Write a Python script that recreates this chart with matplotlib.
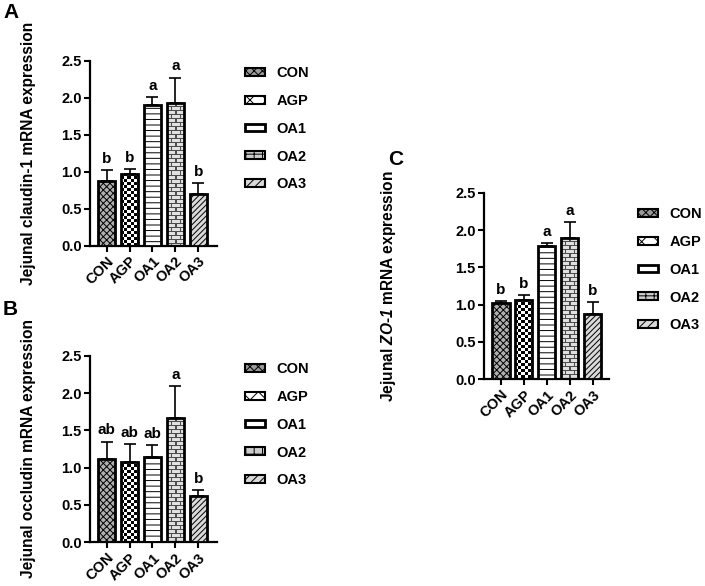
import numpy as np
import matplotlib
matplotlib.use("Agg")
import matplotlib.pyplot as plt
from matplotlib.patches import Patch

plt.rcParams['font.family'] = ['Liberation Sans', 'DejaVu Sans']
plt.rcParams['font.weight'] = 'bold'
plt.rcParams['hatch.linewidth'] = 0.7
plt.rcParams['mathtext.fontset'] = 'custom'
plt.rcParams['mathtext.bfit'] = 'Liberation Sans:bold:italic'
plt.rcParams['mathtext.it'] = 'Liberation Sans:bold:italic'

groups = ["CON", "AGP", "OA1", "OA2", "OA3"]

claudin_mean = [0.87, 0.96, 1.90, 1.92, 0.70]
claudin_err = [0.15, 0.07, 0.11, 0.35, 0.14]
claudin_sig = ["b", "b", "a", "a", "b"]

occludin_mean = [1.11, 1.08, 1.14, 1.67, 0.62]
occludin_err = [0.24, 0.24, 0.16, 0.42, 0.08]
occludin_sig = ["ab", "ab", "ab", "a", "b"]

zo1_mean = [1.02, 1.06, 1.78, 1.89, 0.88]
zo1_err = [0.03, 0.07, 0.04, 0.22, 0.15]
zo1_sig = ["b", "b", "a", "a", "b"]

W, H = 705, 586
fig = plt.figure(figsize=(W / 100, H / 100), dpi=100)


def checker(nx, ny, cell):
    yy, xx = np.mgrid[0:ny, 0:nx]
    m = ((xx // cell + yy // cell) % 2).astype(float)
    img = np.ones((ny, nx, 3))
    img[m == 1] = 0.0
    return img


def brick(nx, ny):
    yy, xx = np.mgrid[0:ny, 0:nx]
    img = np.ones((ny, nx, 3)) * 0.88
    row = yy // 4
    img[yy % 4 == 0] = 0.3
    vert = ((xx + (row % 2) * 4) % 8 == 0)
    img[vert] = 0.3
    return img


styles = {
    "CON": dict(kind="hatch", hatch="xxxxx", fc="#b0b0b0"),
    "AGP": dict(kind="checker"),
    "OA1": dict(kind="hatch", hatch="---", fc="white"),
    "OA2": dict(kind="brick"),
    "OA3": dict(kind="hatch", hatch="//////", fc="#d9d9d9"),
}

legend_handles = [
    Patch(facecolor="#9a9a9a", edgecolor="black", hatch="xxxx", linewidth=1.5, label="CON"),
    Patch(facecolor="white", edgecolor="black", hatch="xx", linewidth=1.5, label="AGP"),
    Patch(facecolor="white", edgecolor="black", linewidth=2, label="OA1"),
    Patch(facecolor="#cccccc", edgecolor="black", hatch="++", linewidth=1.5, label="OA2"),
    Patch(facecolor="#d9d9d9", edgecolor="black", hatch="////", linewidth=1.5, label="OA3"),
]


def panel(rect, means, errs, sigs, ylabel, letter, letter_xy, xlim, leg_xy, ylab_x):
    ax = fig.add_axes(rect)
    x = np.arange(len(groups))
    bw = 0.75
    ax.set_xlim(*xlim)
    ax.set_ylim(0, 2.5)
    bars = ax.bar(x, means, width=bw, facecolor="none", edgecolor="black",
                  linewidth=2, zorder=3)
    ax_w_px = rect[2] * W
    ax_h_px = rect[3] * H
    pxx = ax_w_px / (xlim[1] - xlim[0])
    pxy = ax_h_px / 2.5
    for i, (b, g) in enumerate(zip(bars, groups)):
        st = styles[g]
        if st["kind"] == "hatch":
            b.set_facecolor(st["fc"])
            b.set_hatch(st["hatch"])
            continue
        nx = max(int(round(bw * pxx)), 2)
        ny = max(int(round(means[i] * pxy)), 2)
        if st["kind"] == "checker":
            img = checker(nx, ny, 3)
        else:
            img = brick(nx, ny)
        im = ax.imshow(img[::-1], extent=(x[i] - bw / 2, x[i] + bw / 2, 0, means[i]),
                       origin="lower", interpolation="nearest", aspect="auto", zorder=2)
        im.set_clip_path(b)
    ax.set_xlim(*xlim)
    ax.set_ylim(0, 2.5)
    ax.errorbar(x, means, yerr=[np.zeros(len(x)), errs], fmt="none", ecolor="black",
                elinewidth=1.2, capsize=4, capthick=1.2, zorder=2.5)
    for xi, m, e, s in zip(x, means, errs, sigs):
        ax.annotate(s, (xi, m + e), xytext=(0, 3), textcoords="offset points",
                    ha="center", va="bottom", fontsize=11, fontweight="bold")
    ax.spines["top"].set_visible(False)
    ax.spines["right"].set_visible(False)
    ax.spines["left"].set_linewidth(1.6)
    ax.spines["bottom"].set_linewidth(1.6)
    ax.set_yticks(np.arange(0, 2.51, 0.5))
    ax.set_yticklabels([f"{v:.1f}" for v in np.arange(0, 2.51, 0.5)], fontsize=10.5,
                       fontweight="bold")
    ax.set_xticks(x)
    ax.set_xticklabels(groups, rotation=45, ha="right", rotation_mode="anchor",
                       fontsize=10.5, fontweight="bold")
    ax.tick_params(width=1.5, length=4, pad=2)
    ax.set_ylabel(ylabel, fontsize=11.2, fontweight="bold")
    ax.yaxis.set_label_coords(ylab_x, 0.5)
    fig.text(letter_xy[0], letter_xy[1], letter, fontsize=15, fontweight="bold",
             ha="left", va="top")
    ax.legend(handles=legend_handles, loc="upper left", bbox_to_anchor=leg_xy,
              bbox_transform=fig.transFigure, frameon=False, fontsize=10.5,
              handlelength=1.4, handleheight=0.45, labelspacing=0.95,
              handletextpad=0.75, borderaxespad=0, borderpad=0)
    return ax


panel([90 / W, (H - 245.5) / H, 127 / W, 185 / H], claudin_mean, claudin_err, claudin_sig,
      "Jejunal claudin-1 mRNA expression", "A", (3 / W, 1 - 3 / H), (-0.73, 4.82),
      (245 / W, 1 - 66 / H), -(90 - 36) / 127)
panel([90 / W, (H - 542.3) / H, 127 / W, 186.6 / H], occludin_mean, occludin_err,
      occludin_sig, "Jejunal occludin mRNA expression", "B", (3 / W, 1 - 300 / H),
      (-0.73, 4.82), (245 / W, 1 - 362 / H), -(90 - 36) / 127)
ax = panel([484 / W, (H - 379.3) / H, 125 / W, 186.6 / H], zo1_mean, zo1_err, zo1_sig,
           "Jejunal $\\mathbfit{ZO}$-$\\mathbfit{1}$ mRNA expression", "C",
           (388 / W, 1 - 150 / H), (-0.74, 4.72), (638 / W, 1 - 207 / H),
           -(484 - 398) / 125)

fig.savefig("out.png", dpi=100)
